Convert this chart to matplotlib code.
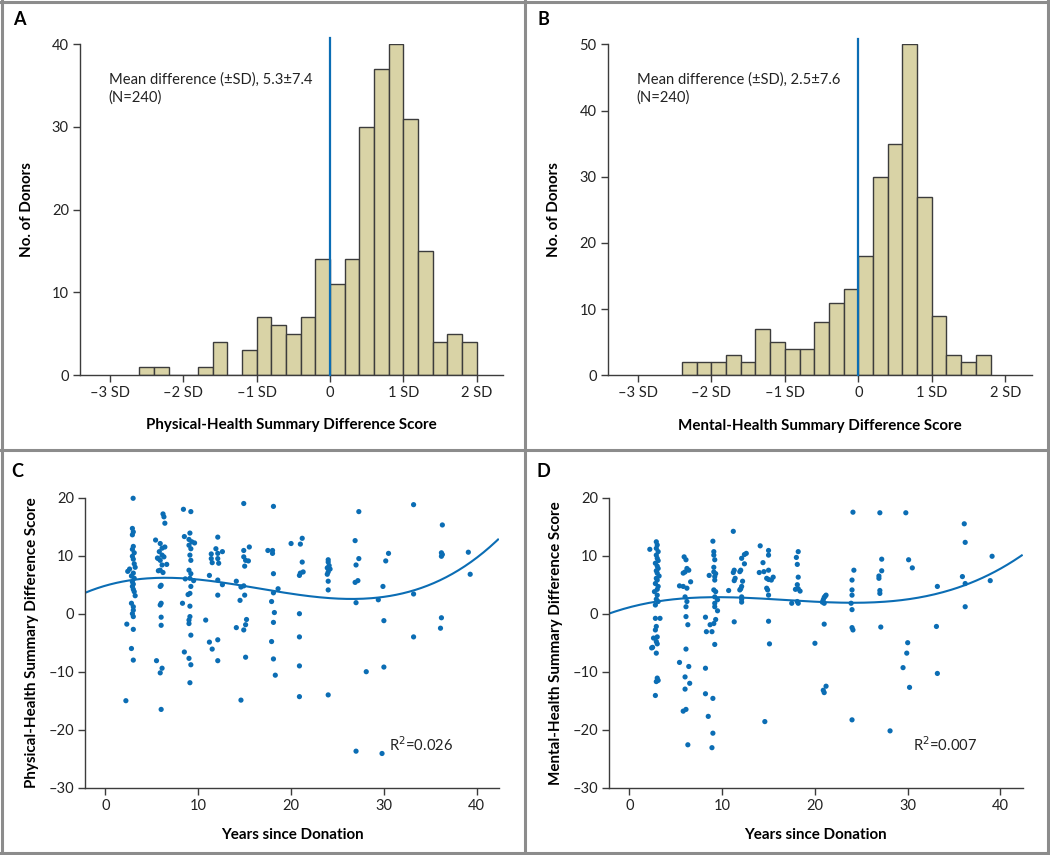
import numpy as np
import matplotlib
matplotlib.use('Agg')
import matplotlib.pyplot as plt
from matplotlib.lines import Line2D

plt.rcParams['font.family'] = ['Lato', 'DejaVu Sans']

# ---- data ----
bin_width = 0.2
start_A = -2.6
counts_A = [1, 1, 0, 0, 1, 4, 0, 3, 7, 6, 5, 7, 14, 11, 14, 30, 37, 40, 31, 15, 4, 5, 4]
start_B = -2.4
counts_B = [2, 2, 2, 3, 2, 7, 5, 4, 4, 8, 11, 13, 18, 30, 35, 50, 27, 9, 3, 2, 3]

sd_ticks = [-3, -2, -1, 0, 1, 2]
sd_labels = ['\u20133 SD', '\u20132 SD', '\u20131 SD', '0', '1 SD', '2 SD']

years_C = [2.98, 2.9, 3.0, 2.9, 3.0, 2.9, 3.1, 2.9, 3.0, 3.1, 3.2, 2.6, 2.4, 3.0, 2.8, 3.1,
           2.9, 3.0, 2.9, 3.0, 3.1, 3.2, 2.8, 3.0, 3.0, 2.9, 3.0, 2.3, 3.0, 2.8, 3.0, 2.2,
           6.2, 6.3, 6.4, 5.4, 5.9, 6.1, 5.8, 6.1, 5.7, 5.9, 6.3, 6.1, 5.9, 6.2, 6.0, 5.9,
           6.0, 5.9, 6.0, 6.0, 5.5, 6.1, 5.9, 6.0, 6.4, 5.6, 6.6, 5.7,
           8.4, 9.2, 9.1, 8.5, 9.0, 9.3, 9.6, 9.0, 9.2, 9.1, 9.2, 9.0, 9.2, 9.1, 9.2, 9.1,
           8.3, 9.1, 9.1, 9.0, 9.0, 9.2, 8.5, 9.0, 9.2, 9.1, 8.6, 9.5, 8.9,
           12.1, 11.4, 11.4, 11.5, 11.9, 12.1, 12.6, 12.1, 12.2, 11.2, 12.1, 12.6, 12.1,
           10.8, 11.2, 12.1, 11.5, 12.1,
           14.9, 14.9, 14.9, 15.1, 15.0, 15.4, 15.5, 14.1, 14.6, 14.9, 15.0, 14.5, 15.2,
           15.1, 14.9, 14.1, 15.1, 14.6,
           18.1, 17.5, 18.0, 18.0, 18.1, 18.1, 17.9, 18.6, 18.2, 18.1, 17.9, 18.1, 18.3, 20.0,
           21.2, 21.0, 21.2, 21.3, 21.0, 20.9, 20.9, 20.9, 20.9, 20.9,
           24.0, 24.0, 24.1, 23.9, 24.2, 24.0, 23.9, 24.0, 24.0, 24.0,
           27.3, 26.9, 27.3, 27.0, 26.9, 27.2, 27.0, 27.0, 28.1,
           30.5, 30.2, 29.9, 29.4, 30.0, 30.0, 29.8,
           33.2, 33.2, 33.2,
           36.3, 36.2, 36.3, 36.2, 36.2, 36.1,
           39.1, 39.3]
score_C = [19.9, 14.7, 14.1, 13.6, 11.6, 11.1, 10.5, 9.9, 9.4, 8.6, 8.0, 7.7, 7.3, 7.0, 6.5, 6.1,
           5.5, 5.1, 4.7, 4.2, 3.8, 3.1, 1.8, 1.2, 0.6, 0.0, -0.5, -1.8, -2.7, -6.0, -8.0, -15.0,
           17.2, 16.7, 15.6, 12.7, 12.1, 11.3, 10.7, 10.1, 9.5, 9.2, 9.8, 8.4, 7.5, 7.1, 4.9, 4.7,
           1.8, 1.5, -0.6, -2.0, -8.1, -9.4, -10.2, -16.5, 11.5, 9.6, 8.5, 7.4,
           18.0, 17.6, 13.9, 13.3, 12.8, 12.4, 12.2, 11.8, 11.2, 10.1, 9.2, 7.5, 6.9, 6.1, 4.7, 3.5,
           1.8, 1.3, -0.5, -1.1, -1.7, -3.7, -6.6, -7.7, -8.8, -11.9, 6.0, 5.7, 3.3,
           13.2, 10.3, 9.5, 8.8, 11.2, 10.4, 10.7, 9.5, 8.7, 6.6, 5.8, 5.0, 3.2,
           -1.1, -4.9, -4.5, -6.1, -8.1,
           19.0, 10.9, 9.8, 9.2, 8.2, 9.1, 11.5, 5.6, 4.6, 4.8, 3.2, 2.3, -1.0,
           -1.9, -2.8, -2.4, -7.5, -14.9,
           18.5, 10.9, 10.9, 10.4, 6.9, 3.6, 2.1, 4.3, 0.2, -1.5, -4.8, -7.8, -10.6, 12.1,
           13.0, 12.0, 8.9, 7.2, 7.0, 6.6, 0.0, -4.0, -9.0, -14.3,
           9.3, 8.9, 8.3, 7.9, 7.7, 7.2, 6.8, 5.6, 4.1, -14.0,
           17.6, 12.6, 9.5, 8.4, 5.4, 5.7, 1.9, -23.7, -10.0,
           10.4, 9.1, 4.7, 2.4, -1.2, -9.2, -24.1,
           18.8, 3.4, -4.0,
           15.3, 10.5, 10.2, 9.9, -0.7, -2.5,
           10.6, 6.8]

years_D = [2.2, 2.9, 3.0, 2.9, 3.1, 2.9, 3.0, 3.1, 2.8, 3.0, 3.1, 2.9, 3.0, 3.2, 2.9, 3.0,
           2.8, 3.1, 3.0, 2.7, 3.0, 2.9, 3.1, 2.8, 2.8, 3.3, 2.9, 2.8, 3.0, 2.6, 2.9, 3.0,
           2.5, 2.9, 2.4, 3.0, 3.1, 2.9, 2.8,
           5.9, 6.1, 6.2, 6.4, 6.0, 5.8, 6.6, 5.4, 5.8, 6.2, 6.0, 6.2, 6.1, 6.1, 6.3, 6.1,
           5.4, 6.4, 6.0, 6.5, 6.0, 5.8, 6.1, 6.3,
           9.0, 9.1, 9.1, 9.2, 9.1, 9.1, 9.3, 9.2, 9.2, 9.1, 9.3, 9.2, 9.5, 9.2, 9.2, 9.5,
           9.3, 9.1, 8.2, 8.3, 8.9, 9.2, 8.2, 8.2, 9.0, 8.5, 9.0, 8.9, 8.6, 8.7,
           11.2, 12.1, 12.4, 12.6, 12.4, 12.0, 11.9, 11.3, 11.2, 11.4, 11.3, 12.2, 12.1, 12.0,
           11.9, 10.7, 12.1, 12.1, 12.1, 11.3,
           14.1, 15.0, 15.0, 14.4, 14.0, 14.5, 15.0, 14.8, 15.0, 15.5, 15.3, 14.8, 14.9, 15.0,
           15.0, 15.1, 14.6,
           18.2, 18.0, 18.1, 18.2, 18.1, 17.9, 18.2, 18.4, 17.5, 18.1, 18.2, 20.0,
           21.2, 21.0, 20.9, 21.0, 21.0, 21.2, 20.9, 21.0, 20.8, 21.1,
           24.1, 24.2, 24.0, 24.0, 24.0, 23.9, 24.0, 24.0, 24.1, 24.0,
           27.0, 27.2, 27.2, 26.9, 26.9, 27.0, 27.0, 27.1, 28.1,
           29.8, 30.1, 30.5, 30.0, 29.9, 29.5, 30.2,
           33.2, 33.1, 33.2,
           36.1, 36.2, 35.9, 36.2, 36.2,
           39.1, 38.9]
score_D = [11.1, 12.4, 11.85, 11.27, 10.7, 10.1, 9.55, 9.15, 8.7, 8.2, 7.8, 7.4, 7.0, 6.5, 6.1, 5.8,
           5.2, 4.7, 4.2, 3.8, 3.2, 2.5, 2.1, 1.5, -0.8, -0.8, -2.2, -2.8, -4.0, -4.2, -4.8, -5.2,
           -5.8, -6.8, -5.9, -11.1, -11.5, -11.7, -14.1,
           9.8, 9.3, 7.8, 7.5, 7.2, 7.0, 5.5, 4.8, 4.7, 4.4, 2.9, 2.1, 1.2, -0.5, -1.9, -6.1,
           -8.4, -9.1, -10.9, -12.0, -13.0, -16.8, -16.5, -22.6,
           12.5, 10.7, 10.1, 9.3, 8.0, 7.2, 6.9, 6.4, 5.8, 4.1, 3.8, 2.9, 2.4, 1.8, 1.2, 0.5,
           -1.0, -1.7, -0.6, -3.1, -3.1, -5.3, -9.4, -13.8, -14.6, -17.7, -20.6, -23.1, 6.6, -1.9,
           14.2, 9.55, 10.2, 10.4, 8.6, 7.5, 7.25, 7.5, 7.1, 6.1, 5.7, 5.6, 4.7, 4.3,
           4.1, 4.0, 2.9, 2.5, 2.0, -1.4,
           11.7, 10.9, 10.1, 8.8, 7.1, 7.25, 7.5, 6.1, 5.9, 6.3, 5.8, 4.4, 4.1, 3.2,
           -1.3, -5.2, -18.6,
           10.7, 9.7, 8.5, 6.3, 5.0, 4.2, 4.3, 3.9, 1.8, 2.1, 1.8, -5.1,
           3.2, 2.8, 2.4, 1.8, -1.8, -12.5, -13.2, -13.6, 2.0, 3.0,
           17.5, 7.5, 5.8, 4.1, 3.2, 1.8, 0.7, -2.4, -2.8, -18.3,
           17.4, 9.4, 7.4, 6.5, 6.1, 4.0, 3.5, -2.3, -20.2,
           17.4, 9.3, 7.9, -5.0, -6.8, -9.3, -12.7,
           4.7, -2.2, -10.3,
           15.5, 12.3, 6.4, 5.2, 1.2,
           9.9, 5.7]

# points
curve_x_C = [-2.2, 6, 15, 20, 27, 31.2, 36.2, 39.0, 42.4]
curve_y_C = [3.6, 6.2, 4.7, 3.5, 2.6, 3.2, 5.9, 8.4, 13.0]
curve_x_D = [-2.2, 5, 9, 15, 20, 25, 30, 36.0, 42.3]
curve_y_D = [0.0, 2.5, 2.9, 2.6, 2.1, 1.7, 2.4, 5.1, 9.95]

year_ticks = [0, 10, 20, 30, 40]
score_ticks = [-30, -20, -10, 0, 10, 20]

bar_color = '#d9d3a6'
edge_color = '#3c3c3c'
blue = '#0b6db4'
axis_color = '#3c3c3c'
tick_fs = 10.5
label_fs = 10.9
note_fs = 10.6

fig = plt.figure(figsize=(10.5, 8.55), dpi=100)


def style_axes(ax):
    for s in ['top', 'right']:
        ax.spines[s].set_visible(False)
    for s in ['left', 'bottom']:
        ax.spines[s].set_color(axis_color)
        ax.spines[s].set_linewidth(1.0)
    ax.tick_params(direction='out', length=5, width=1.0, color=axis_color,
                   labelsize=tick_fs, labelcolor='#222222', pad=3)


def hist_panel(rect, counts, start, ymax, yticks, xlabel, text, letter, lx):
    ax = fig.add_axes(rect)
    edges = start + bin_width * np.arange(len(counts))
    ax.bar(edges, counts, width=bin_width, align='edge', color=bar_color,
           edgecolor=edge_color, linewidth=1.0, zorder=2)
    ax.set_xlim(-3.41, 2.36)
    ax.set_ylim(0, ymax)
    ax.axvline(0, ymin=0, ymax=1.017, color=blue, lw=1.6, clip_on=False, zorder=3)
    ax.set_xticks(sd_ticks)
    ax.set_xticklabels(sd_labels)
    ax.set_yticks(yticks)
    style_axes(ax)
    ax.set_xlabel(xlabel, fontsize=label_fs, fontweight='bold', labelpad=13)
    ax.set_ylabel('No. of Donors', fontsize=label_fs, fontweight='bold', labelpad=13)
    ax.text(0.068, 0.915, text, transform=ax.transAxes, ha='left', va='top',
            fontsize=note_fs, color='#222222', linespacing=1.35)
    fig.text(lx, 0.977, letter, fontsize=13, fontweight='bold', va='center')
    return ax


def scatter_panel(rect, x, y, cx, cy, ylabel, r2, letter, lx):
    ax = fig.add_axes(rect)
    ax.scatter(x, y, s=14, color=blue, edgecolors='none', zorder=3, clip_on=False)
    coef = np.polyfit(cx, cy, 3)
    xs = np.linspace(-2.2, 42.3, 200)
    ax.plot(xs, np.polyval(coef, xs), color=blue, lw=1.5, zorder=2)
    ax.set_xlim(-2.2, 42.4)
    ax.set_ylim(-30, 20)
    ax.set_xticks(year_ticks)
    ax.set_yticks(score_ticks)
    ax.set_yticklabels([('\u2013' + str(-t)) if t < 0 else str(t) for t in score_ticks])
    style_axes(ax)
    ax.set_xlabel('Years since Donation', fontsize=label_fs, fontweight='bold', labelpad=11)
    ax.set_ylabel(ylabel, fontsize=label_fs, fontweight='bold', labelpad=7)
    ax.text(30.6, -22.5, r2, ha='left', va='center', fontsize=note_fs, color='#222222')
    fig.text(lx, 0.449, letter, fontsize=13, fontweight='bold', va='center')
    return ax


hist_panel([0.0762, 0.5614, 0.4028, 0.3871], counts_A, start_A, 40, [0, 10, 20, 30, 40],
           'Physical-Health Summary Difference Score',
           'Mean difference (\u00b1SD), 5.3\u00b17.4\n(N=240)', 'A', 0.012)
hist_panel([0.5788, 0.561, 0.4038, 0.3871], counts_B, start_B, 50, [0, 10, 20, 30, 40, 50],
           'Mental-Health Summary Difference Score',
           'Mean difference (\u00b1SD), 2.5\u00b17.6\n(N=240)', 'B', 0.512)
scatter_panel([0.081, 0.0787, 0.3942, 0.3392], years_C, score_C, curve_x_C, curve_y_C,
              'Physical-Health Summary Difference Score', 'R$^2$=0.026', 'C', 0.011)
scatter_panel([0.58, 0.0787, 0.394, 0.3392], years_D, score_D, curve_x_D, curve_y_D,
              'Mental-Health Summary Difference Score', 'R$^2$=0.007', 'D', 0.511)

# panel frame lines
frame = '#8c8c8c'
for line in [([0.0015, 0.0015], [0, 1]), ([0.9985, 0.9985], [0, 1]),
             ([0, 1], [0.998, 0.998]), ([0, 1], [0.002, 0.002]),
             ([0.5, 0.5], [0, 1]), ([0, 1], [0.4737, 0.4737])]:
    fig.add_artist(Line2D(line[0], line[1], transform=fig.transFigure,
                          color=frame, lw=2.2))

fig.savefig('out.png', dpi=100, facecolor='white')
